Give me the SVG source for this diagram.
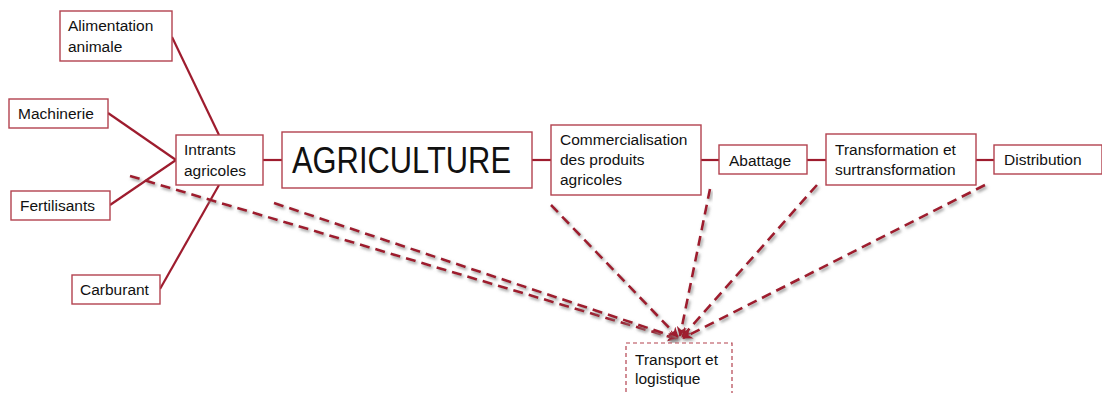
<svg xmlns="http://www.w3.org/2000/svg" width="1102" height="393" viewBox="0 0 1102 393">
<style>
.box{fill:#fff;stroke:#b3424f;stroke-width:1.4}
.dbox{fill:#fff;stroke:#b3424f;stroke-width:1.2;stroke-dasharray:4 3}
.t{font-family:"Liberation Sans",Arial,sans-serif;font-size:15.5px;fill:#111}
.big{font-family:"Liberation Sans",Arial,sans-serif;font-size:36px;fill:#111}
.solid{stroke:#9e1c2e;stroke-width:2.2;fill:none}
.dash{stroke:#9e1c2e;stroke-width:2.6;fill:none;stroke-dasharray:10 6;marker-end:url(#arr);filter:url(#sh)}
</style>
<defs>
<filter id="sh" x="-10%" y="-10%" width="120%" height="120%">
<feDropShadow dx="1.5" dy="2" stdDeviation="1.5" flood-color="#888" flood-opacity="0.9"/>
</filter>
<marker id="arr" viewBox="0 0 10 10" refX="9" refY="5" markerWidth="4" markerHeight="4" orient="auto" markerUnits="strokeWidth">
<path d="M0,0 L10,5 L0,10 L3,5 z" fill="#9e1c2e"/>
</marker>
</defs>
<g id="connectors">
<line class="solid" x1="172" y1="37" x2="219" y2="135"/>
<line class="solid" x1="108" y1="113" x2="176" y2="160"/>
<line class="solid" x1="110" y1="205" x2="176" y2="160"/>
<line class="solid" x1="160" y1="289" x2="219" y2="185"/>
<line class="solid" x1="263" y1="160" x2="282" y2="160"/>
<line class="solid" x1="532" y1="160" x2="551" y2="160"/>
<line class="solid" x1="701" y1="160" x2="719" y2="160"/>
<line class="solid" x1="807" y1="160" x2="826" y2="160"/>
<line class="solid" x1="976" y1="160" x2="994" y2="160"/>
<line class="dash" x1="130" y1="176" x2="677" y2="339"/>
<line class="dash" x1="274" y1="203" x2="678" y2="338"/>
<line class="dash" x1="551" y1="205" x2="678" y2="337"/>
<line class="dash" x1="710" y1="189" x2="680" y2="336"/>
<line class="dash" x1="817" y1="185" x2="682" y2="337"/>
<line class="dash" x1="985" y1="185" x2="683" y2="338"/>
</g>
<g id="n-alimentation"><rect class="box" x="60" y="11" width="112" height="50"/><text class="t" x="68" y="31">Alimentation</text><text class="t" x="68" y="52">animale</text></g>
<g id="n-machinerie"><rect class="box" x="9" y="99" width="99" height="29"/><text class="t" x="18" y="119">Machinerie</text></g>
<g id="n-intrants"><rect class="box" x="176" y="135" width="87" height="50"/><text class="t" x="184" y="155">Intrants</text><text class="t" x="184" y="176">agricoles</text></g>
<g id="n-fertilisants"><rect class="box" x="11" y="191" width="99" height="29"/><text class="t" x="20" y="211">Fertilisants</text></g>
<g id="n-carburant"><rect class="box" x="72" y="275" width="88" height="29"/><text class="t" x="80" y="295">Carburant</text></g>
<g id="n-agriculture"><rect class="box" x="282" y="132" width="250" height="56"/><text class="big" x="292" y="173" textLength="219" lengthAdjust="spacingAndGlyphs">AGRICULTURE</text></g>
<g id="n-commercialisation"><rect class="box" x="551" y="125" width="150" height="70"/><text class="t" x="560" y="145">Commercialisation</text><text class="t" x="560" y="165">des produits</text><text class="t" x="560" y="185">agricoles</text></g>
<g id="n-abattage"><rect class="box" x="719" y="145" width="88" height="29"/><text class="t" x="729" y="166">Abattage</text></g>
<g id="n-transformation"><rect class="box" x="826" y="134" width="150" height="51"/><text class="t" x="835" y="155">Transformation et</text><text class="t" x="835" y="175">surtransformation</text></g>
<g id="n-distribution"><rect class="box" x="994" y="145" width="108" height="29"/><text class="t" x="1004" y="165">Distribution</text></g>
<g id="n-transport"><rect class="dbox" x="626" y="343" width="106" height="55"/><text class="t" x="635" y="365">Transport et</text><text class="t" x="635" y="384">logistique</text></g>
</svg>
